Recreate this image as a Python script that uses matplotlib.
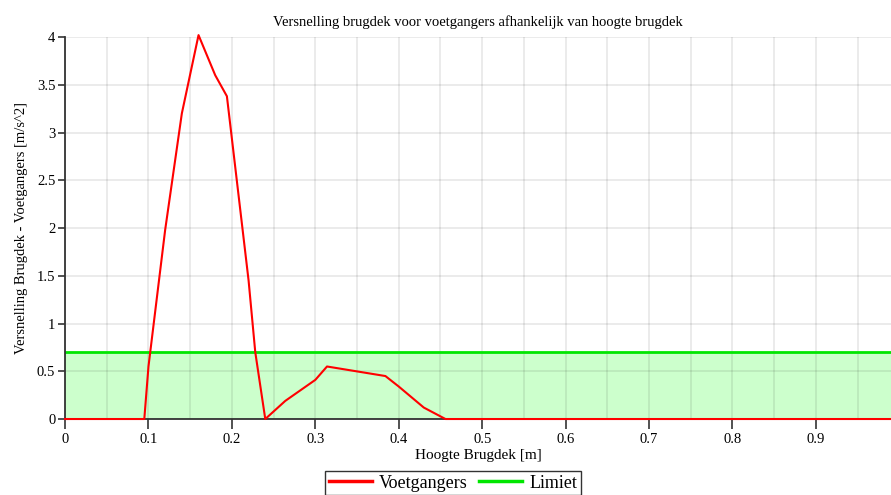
import numpy as np
import matplotlib
matplotlib.use("Agg")
import matplotlib.pyplot as plt

plt.rcParams['font.family'] = ['Liberation Serif', 'DejaVu Serif']

# data
hoogte = [0.0, 0.095, 0.1, 0.12, 0.14, 0.16, 0.18, 0.194, 0.22, 0.228, 0.24,
          0.264, 0.3, 0.314, 0.384, 0.4, 0.43, 0.456, 0.99]
voetgangers = [0.0, 0.0, 0.55, 1.98, 3.2, 4.02, 3.6, 3.38, 1.45, 0.7, 0.0,
               0.19, 0.41, 0.55, 0.45, 0.34, 0.12, 0.0, 0.0]
limiet = 0.7
x_max = 0.99

x_ticks = [0.0, 0.1, 0.2, 0.3, 0.4, 0.5, 0.6, 0.7, 0.8, 0.9]
x_tick_labels = ["0", "0.1", "0.2", "0.3", "0.4", "0.5", "0.6", "0.7", "0.8", "0.9"]
x_minor = [0.05, 0.15, 0.25, 0.35, 0.45, 0.55, 0.65, 0.75, 0.85, 0.95]
y_ticks = [0, 0.5, 1, 1.5, 2, 2.5, 3, 3.5, 4]
y_tick_labels = ["0", "0.5", "1", "1.5", "2", "2.5", "3", "3.5", "4"]


def main():
	fig = plt.figure(figsize=(8.91, 4.95), dpi=100)
	ax = fig.add_axes([0.073, 0.1535, 0.927, 0.7717])

	ax.fill_between([0, x_max], 0, limiet, color="#ccffcc", zorder=1, lw=0)
	ax.plot(hoogte, voetgangers, color="#ff0000", lw=1.5, zorder=5, clip_on=False, label="Voetgangers")
	ax.plot([0, x_max], [limiet, limiet], color="#00e600", lw=2, zorder=3, label="Limiet")

	ax.set_xlim(0, x_max)
	ax.set_ylim(0, 4)
	ax.set_xticks(x_ticks, labels=x_tick_labels)
	ax.set_xticks(x_minor, minor=True)
	ax.set_yticks(y_ticks, labels=y_tick_labels)

	ax.grid(True, which="both", axis="x", color="#000000", alpha=0.085, lw=1.3, zorder=2)
	ax.grid(True, which="major", axis="y", color="#000000", alpha=0.085, lw=1.3, zorder=2)
	ax.set_axisbelow(False)
	ax.tick_params(axis="x", which="major", direction="out", length=7, width=1.2, color="#333333",
				   labelsize=10.5, pad=3)
	ax.tick_params(axis="x", which="minor", length=0)
	ax.tick_params(axis="y", direction="out", length=5, width=1.2, color="#333333", labelsize=10.5, pad=2)

	for s in ["top", "right"]:
		ax.spines[s].set_visible(False)
	for s in ["left", "bottom"]:
		ax.spines[s].set_color("#333333")
		ax.spines[s].set_linewidth(1.3)
		ax.spines[s].set_zorder(4)

	ax.set_title("Versnelling brugdek voor voetgangers afhankelijk van hoogte brugdek", fontsize=10.5, pad=8)
	ax.set_xlabel("Hoogte Brugdek [m]", fontsize=11, labelpad=2)
	ax.set_ylabel("Versnelling Brugdek - Voetgangers [m/s^2]", fontsize=10.5, labelpad=6)

	leg = fig.legend(loc="upper center", bbox_to_anchor=(453 / 891, 1 - 471 / 495), ncol=2,
					 fontsize=13, frameon=True, fancybox=False, edgecolor="#000000",
					 handlelength=2.4, columnspacing=0.6, handletextpad=0.4, borderpad=0.2,
					 borderaxespad=0.0)
	leg.get_frame().set_linewidth(1.0)
	for line in leg.get_lines():
		line.set_linewidth(2.5)

	fig.savefig("out.png", dpi=100)


if __name__ == "__main__":
	main()
